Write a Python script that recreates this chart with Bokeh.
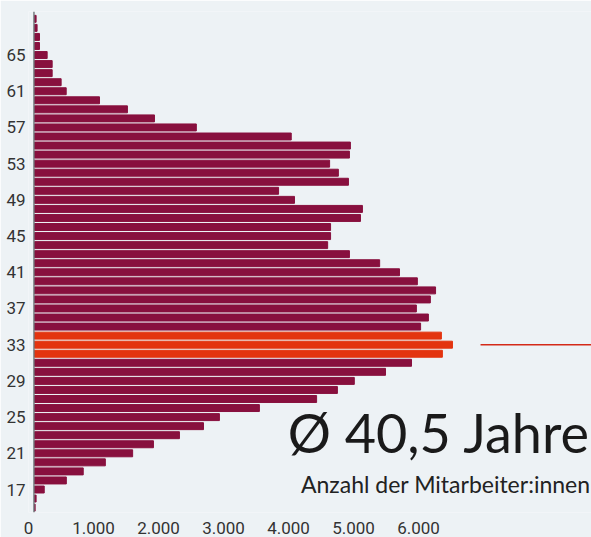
from bokeh.plotting import figure
from bokeh.models import (ColumnDataSource, Range1d, LinearAxis, FixedTicker,
                          Span, Label)
from bokeh.embed import file_html
from bokeh.resources import INLINE

# ---- data ----
ages = list(range(15, 70))
counts = [10, 25, 150, 490, 750, 1090, 1510, 1830, 2230, 2600,
          2845, 3460, 4340, 4660, 4920, 5400, 5800, 6275, 6430, 6260,
          5940, 6060, 5875, 6090, 6170, 5890, 5615, 5310, 4845, 4510,
          4555, 4555, 5015, 5045, 4000, 3755, 4830, 4675, 4540, 4845,
          4860, 3950, 2490, 1846, 1430, 1000, 488, 410, 272, 272,
          195, 77, 77, 40, 25]
highlight_ages = [32, 33, 34]
y_ticks = [17, 21, 25, 29, 33, 37, 41, 45, 49, 53, 57, 61, 65]
x_ticks = [0, 1000, 2000, 3000, 4000, 5000, 6000]
mean_marker_age = 33
mean_marker_x = [6862, 8569]
title_text = "Ø 40,5 Jahre"
subtitle_text = "Anzahl der Mitarbeiter:innen"

BG = "#EDF2F5"
BAR = "#88103E"
RED = "#E3340F"

colors = [RED if a in highlight_ages else BAR for a in ages]
src = ColumnDataSource(dict(age=ages, count=counts, color=colors))

p = figure(width=591, height=537, output_backend="svg", toolbar_location=None,
           x_range=Range1d(-92, 8569), y_range=Range1d(14.46, 69.81),
           x_axis_location=None,
           min_border_left=28, min_border_right=0, min_border_top=11,
           min_border_bottom=25)
p.background_fill_color = BG
p.border_fill_color = BG
p.outline_line_color = None
p.xgrid.visible = False
p.ygrid.visible = False

p.hbar(y="age", left=0, right="count", height=0.77, color="color",
       source=src)

# thin marker line on the right
p.line(x=mean_marker_x, y=[mean_marker_age, mean_marker_age],
       line_color="#D42A18", line_width=1.6)

# vertical axis line at zero
p.add_layout(Span(location=-8, dimension="height", line_color="#6E7478",
                  line_width=1.4))

# y axis
yax = p.yaxis[0]
yax.ticker = FixedTicker(ticks=y_ticks)
yax.axis_line_color = None
yax.major_tick_line_color = None
yax.minor_tick_line_color = None
yax.major_tick_out = 0
yax.major_tick_in = 0
yax.minor_tick_out = 0
yax.major_label_standoff = 3
yax.major_label_text_font = "Liberation Sans Narrow, Roboto"
yax.major_label_text_font_size = "17px"
yax.major_label_text_color = "#333333"

# x axis (labels sit slightly left of bar origin)
p.extra_x_ranges = {"lab": Range1d(0, 8661)}
xax = LinearAxis(x_range_name="lab", ticker=FixedTicker(ticks=x_ticks))
xax.axis_line_color = None
xax.major_tick_line_color = None
xax.minor_tick_line_color = None
xax.major_label_standoff = 3
xax.major_label_overrides = {v: f"{v:,}".replace(",", ".") for v in x_ticks}
xax.major_label_text_font = "Liberation Sans Narrow, Roboto"
xax.major_label_text_font_size = "17px"
xax.major_label_text_color = "#333333"
p.add_layout(xax, "below")

p.add_layout(Label(x=8554, y=23.25, text=title_text, text_align="right",
                   text_baseline="alphabetic", text_font="Lato",
                   text_font_size="54px", text_color="#1A1A1A"))
p.add_layout(Label(x=8554, y=17.56, text=subtitle_text, text_align="right",
                   text_baseline="alphabetic", text_font="Lato",
                   text_font_size="23px", text_color="#222222"))

html = file_html(p, INLINE)
html = html.replace("<body>", f'<body style="background-color:{BG};">', 1)
open("out.html", "w").write(html)
